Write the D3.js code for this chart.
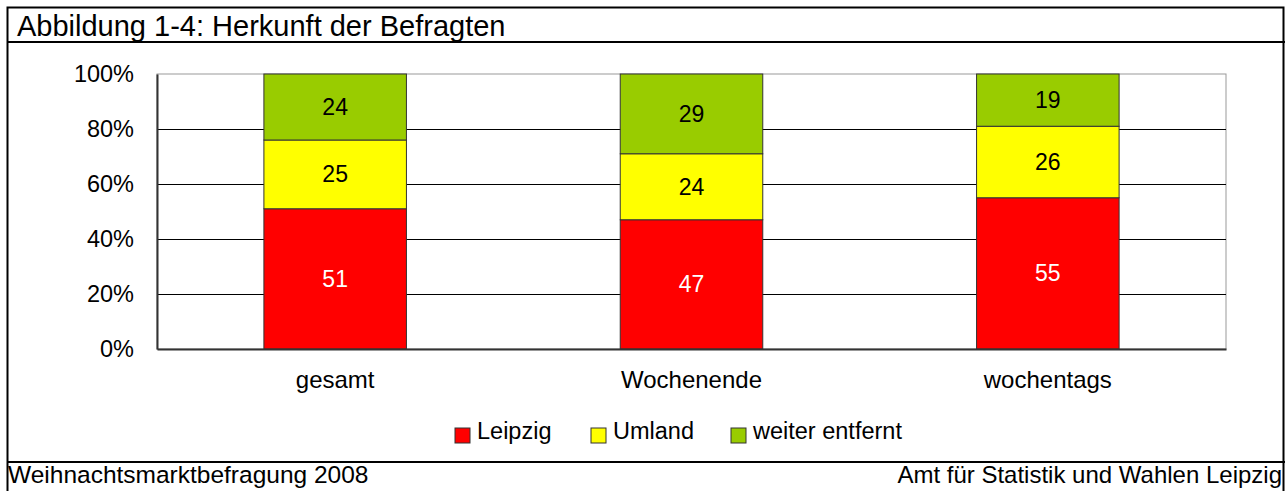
<!DOCTYPE html>
<html>
<head>
<meta charset="utf-8">
<script src="https://cdn.jsdelivr.net/npm/d3@7"></script>
<style>
  body { margin: 0; background: #fff; }
  text { font-family: "Liberation Sans", Arial, sans-serif; }
</style>
</head>
<body>
<div id="chart"></div>
<script>
// data
const categories = ["gesamt", "Wochenende", "wochentags"];
const seriesNames = ["Leipzig", "Umland", "weiter entfernt"];
const leipzig = [51, 47, 55];
const umland = [25, 24, 26];
const weiter = [24, 29, 19];
const yTicks = [0, 20, 40, 60, 80, 100];
const colours = ["#ff0000", "#ffff00", "#99cc00"];
const labelColours = ["#ffffff", "#000000", "#000000"];

const W = 1285, H = 491;
const margin = { top: 74, right: 59, bottom: 142, left: 157 };
const width = W - margin.left - margin.right,
      height = H - margin.top - margin.bottom;

const svg = d3.select("#chart").append("svg")
  .attr("width", W)
  .attr("height", H);

// outer frame, title and footer separators
svg.append("rect")
  .attr("x", 7.5).attr("y", 7.5)
  .attr("width", W - 9).attr("height", H)
  .attr("fill", "none").attr("stroke", "#000").attr("stroke-width", 2);
svg.append("line")
  .attr("x1", 7).attr("x2", W).attr("y1", 42).attr("y2", 42)
  .attr("stroke", "#000").attr("stroke-width", 2);
svg.append("line")
  .attr("x1", 7).attr("x2", W).attr("y1", 462).attr("y2", 462)
  .attr("stroke", "#000").attr("stroke-width", 2);

svg.append("text")
  .attr("x", 17).attr("y", 36)
  .style("font-size", "29px")
  .text("Abbildung 1-4: Herkunft der Befragten");

svg.append("text")
  .attr("x", 8).attr("y", 483)
  .style("font-size", "24.5px")
  .text("Weihnachtsmarktbefragung 2008");
svg.append("text")
  .attr("x", 1282).attr("y", 483)
  .attr("text-anchor", "end")
  .style("font-size", "24px")
  .text("Amt für Statistik und Wahlen Leipzig");

const g = svg.append("g")
  .attr("transform", `translate(${margin.left},${margin.top})`);

const x = d3.scaleBand()
  .domain(categories)
  .range([0, width])
  .paddingInner(0.6)
  .paddingOuter(0.3);

const y = d3.scaleLinear()
  .domain([0, 100])
  .range([height, 0]);

// plot area border (grey top/right)
g.append("rect")
  .attr("width", width).attr("height", height)
  .attr("fill", "#fff").attr("stroke", "#999").attr("stroke-width", 1);

// gridlines
g.selectAll(".grid")
  .data(yTicks.filter(d => d > 0 && d < 100))
  .enter().append("line")
  .attr("class", "grid")
  .attr("x1", 0).attr("x2", width)
  .attr("y1", d => Math.round(y(d)) + 0.5).attr("y2", d => Math.round(y(d)) + 0.5)
  .attr("stroke", "#000").attr("stroke-width", 1);

// stack the data
const table = categories.map((c, i) => ({
  cat: c, Leipzig: leipzig[i], Umland: umland[i], "weiter entfernt": weiter[i]
}));
const stacked = d3.stack().keys(seriesNames)(table);

const layers = g.selectAll(".stack")
  .data(stacked)
  .enter().append("g")
  .attr("class", "stack")
  .attr("fill", (d, i) => colours[i]);

layers.selectAll("rect")
  .data(d => d)
  .enter().append("rect")
  .attr("x", d => x(d.data.cat))
  .attr("y", d => y(d[1]))
  .attr("width", x.bandwidth())
  .attr("height", d => y(d[0]) - y(d[1]))
  .attr("stroke", "#333")
  .attr("stroke-width", 1);

layers.selectAll(".val")
  .data((d, i) => d.map(v => ({ v: v, key: d.key, i: i })))
  .enter().append("text")
  .attr("class", "val")
  .attr("x", d => x(d.v.data.cat) + x.bandwidth() / 2)
  .attr("y", d => (y(d.v[0]) + y(d.v[1])) / 2)
  .attr("dy", "0.35em")
  .attr("text-anchor", "middle")
  .attr("fill", d => labelColours[d.i])
  .style("font-size", "23px")
  .text(d => d.v.data[d.key]);

// axes
const yAxis = d3.axisLeft(y).tickValues(yTicks).tickSize(0).tickPadding(23)
  .tickFormat(d => d + "%");
g.append("g").call(yAxis)
  .call(s => s.select(".domain").attr("stroke", "#333").attr("stroke-width", 2))
  .selectAll("text").style("font-size", "23.5px").attr("fill", "#000");

const xAxis = d3.axisBottom(x).tickSize(0).tickPadding(22);
g.append("g").attr("transform", `translate(0,${height})`).call(xAxis)
  .call(s => s.select(".domain").attr("stroke", "#333").attr("stroke-width", 2))
  .selectAll("text").style("font-size", "24px").attr("fill", "#000");

// legend
const legendX = [455, 591, 731];
const legend = svg.selectAll(".legend")
  .data(seriesNames)
  .enter().append("g")
  .attr("class", "legend")
  .attr("transform", (d, i) => `translate(${legendX[i]},428)`);

legend.append("rect")
  .attr("width", 15).attr("height", 15)
  .attr("fill", (d, i) => colours[i])
  .attr("stroke", "#333");

legend.append("text")
  .attr("x", 22).attr("y", 11)
  .style("font-size", "23.5px")
  .text(d => d);
</script>
</body>
</html>
